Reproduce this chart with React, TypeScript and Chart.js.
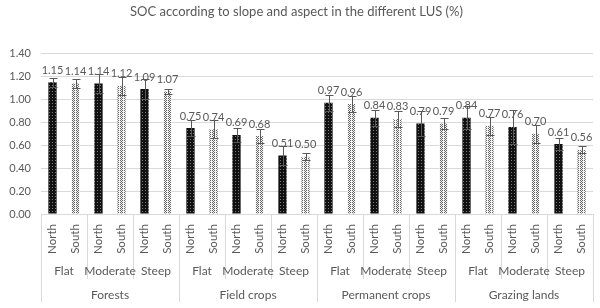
import React, { useEffect, useRef } from "react";
import { Chart, registerables } from "chart.js";

Chart.register(...registerables);

const titleText = "SOC according to slope and aspect in the different LUS (%)";
const landUses = ["Forests", "Field crops", "Permanent crops", "Grazing lands"];
const slopes = ["Flat", "Moderate", "Steep"];
const aspects = ["North", "South"];
// order: Forests(Flat, Moderate, Steep), Field crops(...), Permanent crops(...), Grazing lands(...)
const northSOC = [1.15, 1.14, 1.09, 0.75, 0.69, 0.51, 0.97, 0.84, 0.79, 0.84, 0.76, 0.61];
const southSOC = [1.14, 1.12, 1.07, 0.74, 0.68, 0.5, 0.96, 0.83, 0.79, 0.77, 0.7, 0.56];
const northErr = [0.04, 0.08, 0.09, 0.07, 0.06, 0.08, 0.07, 0.07, 0.11, 0.1, 0.15, 0.05];
const southErr = [0.04, 0.08, 0.02, 0.08, 0.06, 0.03, 0.07, 0.07, 0.05, 0.08, 0.08, 0.03];
const yTicks = [0, 0.2, 0.4, 0.6, 0.8, 1.0, 1.2, 1.4];

const FONT = "Lato, 'Open Sans', sans-serif";
const TEXT = "#595959";
const GRID = "#d9d9d9";

function makeNorthPattern(): CanvasPattern | string {
  const c = document.createElement("canvas");
  c.width = 3;
  c.height = 3;
  const g = c.getContext("2d");
  if (!g) return "#111";
  g.fillStyle = "#111111";
  g.fillRect(0, 0, 3, 3);
  g.fillStyle = "#7a7a7a";
  g.fillRect(1, 1, 1, 1);
  return g.createPattern(c, "repeat") || "#111";
}

function makeSouthPattern(): CanvasPattern | string {
  const c = document.createElement("canvas");
  c.width = 4;
  c.height = 2;
  const g = c.getContext("2d");
  if (!g) return "#bbb";
  g.fillStyle = "#f4f4f4";
  g.fillRect(0, 0, 4, 2);
  g.fillStyle = "#666666";
  g.fillRect(0, 0, 1, 1);
  g.fillRect(2, 0, 1, 1);
  g.fillRect(1, 1, 1, 1);
  return g.createPattern(c, "repeat") || "#bbb";
}

export default function App() {
  const ref = useRef<HTMLCanvasElement | null>(null);

  useEffect(() => {
    if (!ref.current) return;
    const labels: string[] = [];
    const values: number[] = [];
    const errs: number[] = [];
    for (let i = 0; i < northSOC.length; i++) {
      labels.push(aspects[0], aspects[1]);
      values.push(northSOC[i], southSOC[i]);
      errs.push(northErr[i], southErr[i]);
    }
    const np = makeNorthPattern();
    const sp = makeSouthPattern();
    const colors = values.map((_, i) => (i % 2 === 0 ? np : sp));

    const overlay = {
      id: "overlay",
      afterDatasetsDraw(chart: any) {
        const ctx = chart.ctx;
        const ys = chart.scales.y;
        const meta = chart.getDatasetMeta(0);
        ctx.save();
        // error bars
        ctx.strokeStyle = "#595959";
        ctx.lineWidth = 1;
        meta.data.forEach((el: any, i: number) => {
          const x = Math.round(el.x) + 0.5;
          const yt = Math.round(ys.getPixelForValue(values[i] + errs[i])) + 0.5;
          const yb = Math.round(ys.getPixelForValue(values[i] - errs[i])) + 0.5;
          ctx.beginPath();
          ctx.moveTo(x, yt);
          ctx.lineTo(x, yb);
          ctx.moveTo(x - 4, yt);
          ctx.lineTo(x + 4, yt);
          ctx.moveTo(x - 4, yb);
          ctx.lineTo(x + 4, yb);
          ctx.stroke();
        });
        // data labels
        ctx.fillStyle = TEXT;
        ctx.font = `11px ${FONT}`;
        ctx.textAlign = "center";
        ctx.textBaseline = "middle";
        meta.data.forEach((el: any, i: number) => {
          ctx.fillText(values[i].toFixed(2), el.x, ys.getPixelForValue(values[i]) - 12);
        });
        ctx.restore();
      },
      afterDraw(chart: any) {
        const ctx = chart.ctx;
        const xs = chart.scales.x;
        const bottom = chart.chartArea.bottom;
        const n = labels.length;
        const cw = (xs.right - xs.left) / n;
        ctx.save();
        // separators
        ctx.strokeStyle = GRID;
        ctx.lineWidth = 1;
        for (let k = 0; k <= n; k += 2) {
          const x = Math.round(xs.getPixelForValue(0) - cw / 2 + k * cw) + 0.5;
          const major = k % 6 === 0;
          ctx.beginPath();
          ctx.moveTo(x, bottom);
          ctx.lineTo(x, bottom + (major ? 88 : 65));
          ctx.stroke();
        }
        ctx.fillStyle = TEXT;
        ctx.font = `11.5px ${FONT}`;
        // aspect labels rotated
        for (let i = 0; i < n; i++) {
          const x = xs.getPixelForValue(i);
          ctx.save();
          ctx.translate(x, bottom + 25);
          ctx.rotate(-Math.PI / 2);
          ctx.textAlign = "center";
          ctx.textBaseline = "middle";
          ctx.fillText(labels[i], 0, 0);
          ctx.restore();
        }
        ctx.textAlign = "center";
        ctx.textBaseline = "middle";
        ctx.font = `12px ${FONT}`;
        // slope labels
        for (let s = 0; s < n / 2; s++) {
          const x = (xs.getPixelForValue(s * 2) + xs.getPixelForValue(s * 2 + 1)) / 2;
          ctx.fillText(slopes[s % 3], x, bottom + 57);
        }
        // land use labels
        for (let g = 0; g < landUses.length; g++) {
          const x = (xs.getPixelForValue(g * 6) + xs.getPixelForValue(g * 6 + 5)) / 2;
          ctx.fillText(landUses[g], x, bottom + 81);
        }
        ctx.restore();
      },
    };

    const chart = new Chart(ref.current, {
      type: "bar",
      data: {
        labels,
        datasets: [
          {
            data: values,
            backgroundColor: colors as any,
            borderWidth: 0,
            categoryPercentage: 1,
            barPercentage: 0.36,
          },
        ],
      },
      options: {
        responsive: true,
        maintainAspectRatio: false,
        animation: false,
        layout: { padding: { left: 0, right: 7, top: 0, bottom: 94 } },
        plugins: {
          legend: { display: false },
          tooltip: { enabled: false },
          title: {
            display: true,
            text: titleText,
            color: TEXT,
            font: { family: FONT, size: 13, weight: "normal" },
            padding: { top: 4, bottom: 34 },
          },
        },
        scales: {
          x: {
            type: "category",
            grid: { display: false },
            border: { display: false },
            ticks: { display: false },
            afterFit(s: any) {
              s.height = 0;
            },
          },
          y: {
            min: 0,
            max: 1.4,
            afterBuildTicks(s: any) {
              s.ticks = yTicks.map((v) => ({ value: v }));
            },
            ticks: {
              color: TEXT,
              font: { family: FONT, size: 11 },
              padding: 10,
              callback: (v: any) => Number(v).toFixed(2),
            },
            grid: { color: GRID, lineWidth: 1, drawTicks: false },
            border: { display: false },
            afterFit(s: any) {
              s.width = 41;
            },
          },
        },
      },
      plugins: [overlay],
    });
    return () => chart.destroy();
  }, []);

  return (
    <div style={{ position: "absolute", left: 0, top: 0, width: 600, height: 308, background: "#fff" }}>
      <canvas ref={ref} />
    </div>
  );
}
